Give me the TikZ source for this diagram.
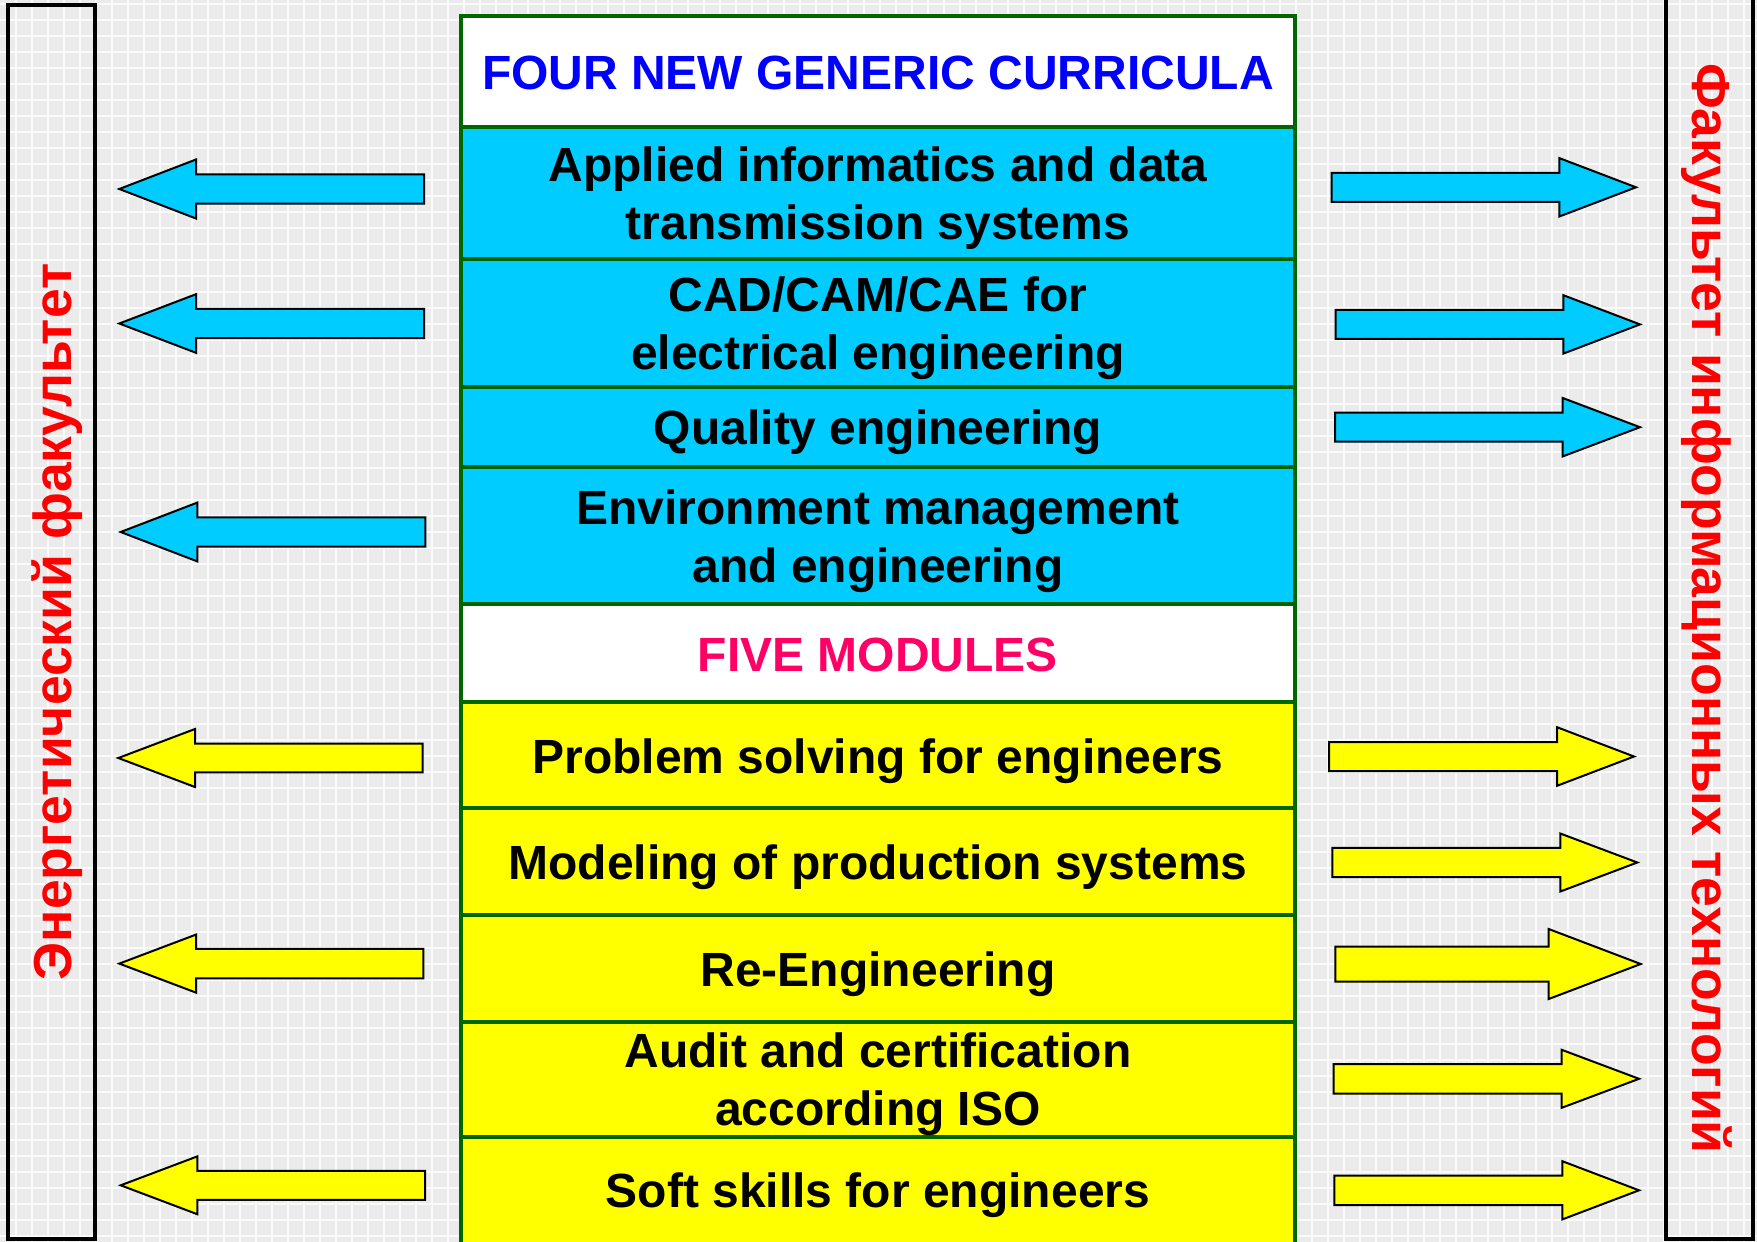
\documentclass[tikz,border=0pt]{standalone}
\usepackage{fontspec}
\setmainfont{Liberation Sans}
\definecolor{bgc}{RGB}{235,235,235}
\definecolor{gridc}{RGB}{250,250,250}
\definecolor{dgreen}{RGB}{0,102,0}
\definecolor{cyanb}{RGB}{0,204,255}
\definecolor{yel}{RGB}{255,255,0}
\definecolor{pinkr}{RGB}{255,0,102}
\newcommand\barrow[7]{%
  \filldraw[blockarrow, fill=#7] (#1,#4-#5) -- (#2,#4-#5) -- (#2,#4-#6) -- (#3,#4)
    -- (#2,#4+#6) -- (#2,#4+#5) -- (#1,#4+#5) -- cycle;}
\begin{document}
\begin{tikzpicture}[x=1pt,y=-1pt,
  rowbox/.style={draw=dgreen, line width=3.8pt, minimum width=834pt, inner sep=0pt},
  rowtext/.style={align=center, inner sep=0pt, font=\bfseries\fontsize{48}{58}\selectfont, text=black},
  blockarrow/.style={draw=black, line width=2pt},
  sidebox/.style={draw=black, line width=3.5pt},
  sidetext/.style={text=red, inner sep=0pt, anchor=base, font=\bfseries\fontsize{53.5}{60}\selectfont}]
\useasboundingbox (0,0) rectangle (1757,1242);
% background grid
\fill[bgc] (0,0) rectangle (1757,1242);
\foreach \i in {0,...,109} {\draw[gridc, line width=1.7pt] (15.7+16*\i,0) -- (15.7+16*\i,1242);}
\foreach \j in {0,...,77} {\draw[gridc, line width=1.7pt] (0,3.7+16*\j) -- (1757,3.7+16*\j);}
% side boxes
\draw[sidebox] (8,5) rectangle (95,1239);
\draw[sidebox] (1666,-10) rectangle (1753,1239);
\node[sidetext, rotate=90] (lt) at (71,622) {Энергетический факультет};
\node[sidetext, rotate=-90] (rt) at (1692,608.5) {Факультет информационных технологий};
% centre column: boxes
\node[rowbox, fill=white, minimum height=111pt] (h1) at (878,71.5) {};
\node[rowbox, fill=cyanb, minimum height=132pt] (c1) at (878,193) {};
\node[rowbox, fill=cyanb, minimum height=128pt] (c2) at (878,323) {};
\node[rowbox, fill=cyanb, minimum height=80pt] (c3) at (878,427) {};
\node[rowbox, fill=cyanb, minimum height=137pt] (c4) at (878,535.5) {};
\node[rowbox, fill=white, minimum height=98pt] (h2) at (878,653) {};
\node[rowbox, fill=yel, minimum height=106pt] (m1) at (878,755) {};
\node[rowbox, fill=yel, minimum height=107pt] (m2) at (878,861.5) {};
\node[rowbox, fill=yel, minimum height=107pt] (m3) at (878,968.5) {};
\node[rowbox, fill=yel, minimum height=115pt] (m4) at (878,1079.5) {};
\node[rowbox, fill=yel, minimum height=108pt] (m5) at (878,1191) {};
% centre column: texts
\node[rowtext, text=blue] (th1) at (878,73) {FOUR NEW GENERIC CURRICULA};
\node[rowtext] (tc1) at (878,198.5) {Applied informatics and data\\transmission systems};
\node[rowtext] (tc2) at (878,328.5) {CAD/CAM/CAE for\\electrical engineering};
\node[rowtext] (tc3) at (878,432) {Quality engineering};
\node[rowtext] (tc4) at (878,541.5) {Environment management\\and engineering};
\node[rowtext, text=pinkr] (th2) at (878,655) {FIVE MODULES};
\node[rowtext] (tm1) at (878,761) {Problem solving for engineers};
\node[rowtext] (tm2) at (878,867) {Modeling of production systems};
\node[rowtext] (tm3) at (878,974) {Re-Engineering};
\node[rowtext] (tm4) at (878,1084.5) {Audit and certification\\according ISO};
\node[rowtext] (tm5) at (878,1195.5) {Soft skills for engineers};
% left arrows
\barrow{424}{196}{119.3}{189}{14.7}{29.5}{cyanb}
\barrow{424}{196}{119.3}{323.5}{14.7}{29.3}{cyanb}
\barrow{425.3}{197.3}{120.7}{532}{14.7}{29.4}{cyanb}
\barrow{422.7}{195}{118.3}{758}{14.4}{29}{yel}
\barrow{423.3}{196}{119.3}{963.6}{14.7}{29}{yel}
\barrow{425}{197.3}{120.7}{1185.3}{14.5}{28.9}{yel}
% right arrows
\barrow{1331.7}{1559.3}{1636}{187.3}{14.5}{29.2}{cyanb}
\barrow{1335.7}{1563.3}{1640}{324.4}{14.5}{29.2}{cyanb}
\barrow{1335}{1562.7}{1640}{427.2}{14.5}{29.2}{cyanb}
\barrow{1329}{1557}{1634}{756.5}{14.5}{29.3}{yel}
\barrow{1332.3}{1560.3}{1637.3}{862.5}{14.6}{29}{yel}
\barrow{1335.3}{1548.7}{1640.7}{964}{17.5}{35}{yel}
\barrow{1333.7}{1561.7}{1639}{1078.8}{14.7}{29}{yel}
\barrow{1334.3}{1562.3}{1639}{1190.3}{14.7}{29.1}{yel}
\end{tikzpicture}
\end{document}
